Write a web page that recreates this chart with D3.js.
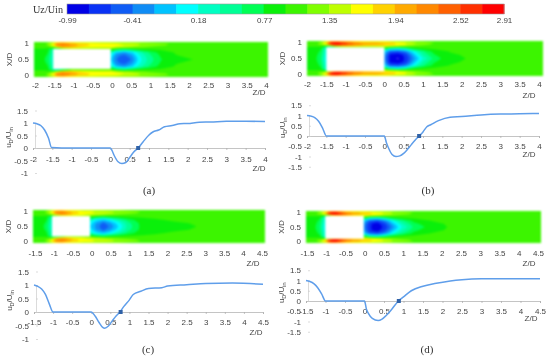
<!DOCTYPE html>
<html lang="en">
<head>
<meta charset="UTF-8">
<title>Uz/Uin contours and centreline velocity</title>
<script src="https://d3js.org/d3.v7.min.js"></script>
<style>
    body { margin: 0; background: #fff; font-family: "Liberation Sans", Arial, sans-serif; }
    svg { display: block; filter: blur(0.4px); }
    .field { filter: blur(0.8px); }
    .tick text { font-size: 8px; fill: #444; font-family: "Liberation Sans", Arial, sans-serif; }
    .lbl { font-size: 8px; fill: #444; }
    .cap { font-size: 11px; fill: #333; font-family: "Liberation Serif", serif; }
</style>
</head>
<body>
<div id="chart"></div>
<script>
// colour bar
const bandColors = ["#0000e6", "#0a32f5", "#0f5cf5", "#0f8cf5", "#00c3ff", "#00ffff", "#00ffc3", "#00ff96", "#00ff55", "#0af00a",
    "#3cf500", "#80ff00", "#bfff00", "#ffff00", "#ffd200", "#ffaa00", "#ff8800", "#ff6000", "#ff3000", "#ff0000"];
const legendTicks = [-0.99, -0.41, 0.18, 0.77, 1.35, 1.94, 2.52, 2.91];

// grid of the contour plots: distance from the wall (upper half, the lower half mirrors it)
const wallRows = [0, 0.05, 0.1, 0.15, 0.2, 0.3, 0.4, 0.5];
const zLong = [-2, -1.8, -1.65, -1.5, -1.4, -1.25, -1, -0.75, -0.5, -0.25, 0, 0.15, 0.35, 0.55, 0.75, 1, 1.3, 1.7, 2.2, 3, 4.1];
const zShort = [-1.5, -1.3, -1.15, -1, -0.9, -0.75, -0.6, -0.45, -0.3, -0.15, 0, 0.15, 0.35, 0.55, 0.75, 1, 1.3, 1.7, 2.2, 3, 4.6];

// Uz/Uin, one line per wallRows entry
const fieldA = [
    [1, 1.02, 1.1, 1.25, 1.5, 1.6, 1.5, 1.4, 1.35, 1.3, 1.3, 1.28, 1.25, 1.2, 1.15, 1.1, 1.06, 1.03, 1, 1, 1],
    [1, 1.05, 1.2, 1.7, 2.2, 2.3, 2, 1.8, 1.7, 1.65, 1.6, 1.55, 1.5, 1.45, 1.35, 1.28, 1.2, 1.12, 1.05, 1, 1],
    [1, 1.05, 1.15, 1.6, 2.2, 2.35, 2.1, 1.85, 1.72, 1.65, 1.6, 1.58, 1.55, 1.45, 1.35, 1.25, 1.18, 1.1, 1.03, 1, 1],
    [0.98, 1, 1.05, 1.2, 1.6, 2, 1.9, 1.7, 1.6, 1.55, 1.55, 1.5, 1.4, 1.3, 1.2, 1.12, 1.06, 1.02, 1, 1, 1],
    [0.95, 0.95, 0.9, 0.4, 0.2, 0.7, 1.2, 1.2, 1.2, 1.2, 1.2, 0.85, 0.7, 0.85, 0.95, 1, 1, 1, 1, 1, 1],
    [0.95, 0.9, 0.8, 0.3, 0.3, 0.3, 0.3, 0.3, 0.3, 0.3, 0.3, -0.1, -0.25, -0.05, 0.3, 0.6, 0.85, 0.98, 1, 1, 1],
    [0.93, 0.88, 0.72, 0.25, 0.25, 0.25, 0.25, 0.25, 0.25, 0.25, 0.1, -0.35, -0.5, -0.25, 0.15, 0.5, 0.78, 0.95, 1, 1, 1],
    [0.92, 0.85, 0.68, 0.2, 0.2, 0.2, 0.2, 0.2, 0.2, 0.2, 0, -0.4, -0.62, -0.38, 0.1, 0.45, 0.75, 0.88, 0.97, 1, 1]
];
const fieldB = [
    [1, 1.02, 1.1, 1.3, 1.7, 1.8, 1.7, 1.55, 1.45, 1.4, 1.35, 1.3, 1.25, 1.2, 1.12, 1.08, 1.05, 1.02, 1, 1, 1],
    [1, 1.05, 1.25, 1.9, 2.7, 2.85, 2.5, 2.2, 2, 1.95, 1.9, 1.8, 1.7, 1.55, 1.4, 1.25, 1.15, 1.08, 1.03, 1, 1],
    [1, 1.05, 1.2, 1.7, 2.6, 2.9, 2.6, 2.3, 2.1, 2, 1.95, 1.85, 1.7, 1.55, 1.35, 1.2, 1.12, 1.06, 1.02, 1, 1],
    [0.98, 0.98, 1, 0.7, 0.6, 1.4, 1.7, 1.7, 1.6, 1.55, 1.5, 1.45, 1.35, 1.25, 1.15, 1.08, 1.04, 1.02, 1, 1, 1],
    [0.93, 0.92, 0.85, 0.2, 0, 0.2, 0.5, 0.5, 0.5, 0.5, 1, 0.5, 0.35, 0.6, 0.9, 1, 1.02, 1, 1, 1, 1],
    [0.93, 0.88, 0.72, 0.15, 0.15, 0.15, 0.15, 0.15, 0.15, 0.15, 0, -0.5, -0.55, -0.35, 0.1, 0.55, 0.85, 0.97, 1, 1, 1],
    [0.93, 0.85, 0.65, 0.1, 0.1, 0.1, 0.1, 0.1, 0.1, 0.1, -0.2, -0.85, -0.95, -0.7, -0.15, 0.4, 0.75, 0.93, 0.99, 1, 1],
    [0.92, 0.83, 0.6, 0.05, 0.05, 0.05, 0.05, 0.05, 0.05, 0.05, -0.3, -0.85, -1, -0.75, -0.3, 0.2, 0.65, 0.92, 0.97, 1, 1]
];
const fieldC = [
    [1, 1.02, 1.1, 1.25, 1.5, 1.6, 1.5, 1.4, 1.35, 1.3, 1.3, 1.28, 1.25, 1.2, 1.15, 1.1, 1.06, 1.03, 1, 1, 1],
    [1, 1.05, 1.2, 1.7, 2.2, 2.3, 2.05, 1.85, 1.72, 1.65, 1.6, 1.52, 1.45, 1.38, 1.3, 1.22, 1.16, 1.1, 1.05, 1, 1],
    [1, 1.05, 1.15, 1.6, 2.2, 2.35, 2.15, 1.9, 1.75, 1.65, 1.58, 1.52, 1.45, 1.38, 1.28, 1.2, 1.14, 1.08, 1.03, 1, 1],
    [0.98, 1, 1.05, 1.2, 1.6, 2, 1.9, 1.7, 1.6, 1.52, 1.45, 1.38, 1.3, 1.2, 1.14, 1.08, 1.05, 1.02, 1, 1, 1],
    [0.95, 0.95, 0.9, 0.4, 0.2, 0.7, 1.2, 1.2, 1.2, 1.2, 1.1, 0.85, 0.75, 0.88, 0.95, 1, 1, 1, 1, 1, 1],
    [0.95, 0.9, 0.8, 0.3, 0.3, 0.3, 0.3, 0.3, 0.3, 0.3, 0.3, 0.05, -0.1, 0.1, 0.35, 0.65, 0.86, 0.94, 0.98, 1, 1],
    [0.93, 0.88, 0.72, 0.25, 0.25, 0.25, 0.25, 0.25, 0.25, 0.25, 0.1, -0.2, -0.45, -0.2, 0.1, 0.5, 0.78, 0.9, 0.94, 0.98, 1],
    [0.92, 0.85, 0.68, 0.2, 0.2, 0.2, 0.2, 0.2, 0.2, 0.2, 0, -0.25, -0.6, -0.33, 0, 0.45, 0.77, 0.89, 0.93, 0.97, 1]
];
const fieldD = [
    [1, 1.02, 1.1, 1.3, 1.7, 1.8, 1.7, 1.55, 1.45, 1.4, 1.35, 1.3, 1.25, 1.2, 1.12, 1.08, 1.05, 1.02, 1, 1, 1],
    [1, 1.05, 1.25, 1.9, 2.7, 2.85, 2.5, 2.25, 2.05, 1.95, 1.85, 1.75, 1.65, 1.5, 1.35, 1.25, 1.15, 1.08, 1.03, 1, 1],
    [1, 1.05, 1.2, 1.7, 2.6, 2.9, 2.65, 2.35, 2.15, 2, 1.9, 1.8, 1.65, 1.5, 1.32, 1.2, 1.12, 1.06, 1.02, 1, 1],
    [0.98, 0.98, 1, 0.7, 0.6, 1.4, 1.7, 1.7, 1.6, 1.55, 1.5, 1.42, 1.32, 1.22, 1.15, 1.08, 1.04, 1.02, 1, 1, 1],
    [0.93, 0.92, 0.85, 0.2, 0, 0.2, 0.5, 0.5, 0.5, 0.5, 1, 0.5, 0.4, 0.65, 0.9, 1, 1.02, 1, 1, 1, 1],
    [0.93, 0.88, 0.72, 0.15, 0.15, 0.15, 0.15, 0.15, 0.15, 0.15, 0, -0.45, -0.55, -0.3, 0.15, 0.55, 0.83, 0.96, 1, 1, 1],
    [0.93, 0.85, 0.65, 0.1, 0.1, 0.1, 0.1, 0.1, 0.1, 0.1, -0.2, -0.75, -0.9, -0.6, -0.12, 0.35, 0.7, 0.9, 0.98, 1, 1],
    [0.92, 0.83, 0.6, 0.05, 0.05, 0.05, 0.05, 0.05, 0.05, 0.05, -0.3, -0.75, -0.95, -0.72, -0.3, 0.2, 0.6, 0.83, 0.97, 1, 1]
];

// block extent on the X/D axis, bottom then top
const blockA = [0.23, 0.8], blockB = [0.135, 0.82], blockC = [0.2, 0.816], blockD = [0.133, 0.847];

// centreline curves
const curveZA = [-2, -1.9, -1.8, -1.7, -1.6, -1.52, -1, 0, 0.05, 0.1, 0.2, 0.3, 0.4, 0.5, 0.6, 0.72, 0.85, 1, 1.1, 1.25, 1.4, 1.6, 1.8, 2, 2.3, 2.6, 3, 3.5, 4];
const curveUA = [1, 0.97, 0.9, 0.72, 0.4, 0.02, 0, 0, -0.12, -0.3, -0.55, -0.62, -0.58, -0.38, -0.17, 0, 0.25, 0.52, 0.64, 0.72, 0.85, 0.9, 0.97, 0.98, 1.03, 1.04, 1.07, 1.07, 1.06];
const curveZB = [-2, -1.9, -1.8, -1.7, -1.6, -1.5, -1, 0, 0.05, 0.1, 0.2, 0.3, 0.4, 0.5, 0.6, 0.7, 0.8, 0.9, 1, 1.1, 1.2, 1.4, 1.7, 2, 2.5, 3, 3.5, 4];
const curveUB = [1, 0.97, 0.9, 0.72, 0.4, 0, 0, 0, -0.3, -0.55, -0.9, -1, -0.97, -0.85, -0.65, -0.42, -0.2, 0, 0.2, 0.45, 0.55, 0.75, 0.92, 0.95, 1.03, 1.07, 1.08, 1.1];
const curveZC = [-1.5, -1.4, -1.3, -1.2, -1.1, -1, -0.5, 0, 0.1, 0.2, 0.3, 0.35, 0.45, 0.55, 0.65, 0.75, 0.85, 1, 1.1, 1.3, 1.5, 1.85, 2, 2.5, 3, 3.7, 4.5];
const curveUC = [1, 0.95, 0.85, 0.65, 0.3, 0, 0, 0, -0.15, -0.38, -0.57, -0.6, -0.52, -0.33, -0.15, 0, 0.2, 0.45, 0.65, 0.77, 0.87, 0.9, 0.96, 1.01, 1.06, 1.07, 1.03];
const curveZD = [-1.5, -1.4, -1.3, -1.2, -1.1, -1, -0.5, 0, 0.05, 0.1, 0.2, 0.35, 0.45, 0.55, 0.7, 0.87, 1, 1.2, 1.5, 1.8, 2.2, 2.5, 3, 4.5];
const curveUD = [1, 0.95, 0.85, 0.65, 0.35, 0, 0, 0, -0.4, -0.6, -0.85, -0.95, -0.88, -0.72, -0.4, 0, 0.2, 0.5, 0.72, 0.85, 0.98, 1.04, 1.08, 1.08];

// zero crossing marker of each curve
const crossA = 0.72, crossB = 0.9, crossC = 0.77, crossD = 0.88;

const zTicksLong = [-2, -1.5, -1, -0.5, 0, 0.5, 1, 1.5, 2, 2.5, 3, 3.5, 4];
const zTicksShort = [-1.5, -1, -0.5, 0, 0.5, 1, 1.5, 2, 2.5, 3, 3.5, 4, 4.5];
const xTicks = [0, 0.5, 1];
const uTicksShort = [-1, -0.5, 0, 0.5, 1, 1.5];
const uTicksFull = [-1.5, -1, -0.5, 0, 0.5, 1, 1.5];

const width = 550, height = 359;
const svg = d3.select("#chart").append("svg").attr("width", width).attr("height", height);

const fmt = d => String(d);

// colour bar
const uMin = legendTicks[0], uMax = legendTicks[legendTicks.length - 1];
const bandEdges = bandColors.map((c, i) => uMin + i * (uMax - uMin) / bandColors.length);
const legendX = d3.scaleLinear().domain([uMin, uMax]).range([67, 504]);
const bandStep = (uMax - uMin) / bandColors.length;

svg.append("text").attr("class", "cap").attr("x", 33).attr("y", 13).style("font-size", "10.2px").text("Uz/Uin");
svg.append("g").selectAll("rect").data(bandColors).join("rect")
    .attr("x", (d, i) => legendX(bandEdges[i]))
    .attr("y", 4)
    .attr("width", legendX(uMin + bandStep) - legendX(uMin) + 0.5)
    .attr("height", 10)
    .attr("fill", d => d);
svg.append("rect").attr("x", 67).attr("y", 4).attr("width", 437).attr("height", 10)
    .attr("fill", "none").attr("stroke", "#999").attr("stroke-width", 0.6);
svg.append("g").attr("transform", "translate(0,14)")
    .call(d3.axisBottom(legendX).tickValues(legendTicks).tickSize(0).tickPadding(3).tickFormat(fmt))
    .call(g => g.select(".domain").remove());

// one contour plot
function drawField(o) {
    const nCols = o.zs.length;
    const rowsX = wallRows.concat(wallRows.slice(0, -1).reverse().map(d => 1 - d));
    const rows = o.field.concat(o.field.slice(0, -1).reverse());
    const values = rows.flat();

    const x = d3.scaleLinear().domain([o.zs[0], o.zs[nCols - 1]]).range([o.fx0, o.fx1]);
    const y = d3.scaleLinear().domain([0, 1]).range([o.fy1, o.fy0]);
    const colZ = d3.scaleLinear().domain(d3.range(nCols)).range(o.zs).clamp(true);
    const rowX = d3.scaleLinear().domain(d3.range(rowsX.length)).range(rowsX).clamp(true);

    const contours = d3.contours().size([nCols, rowsX.length]).thresholds(bandEdges)(values);
    const path = d3.geoPath(d3.geoTransform({
        point(px, py) { this.stream.point(x(colZ(px - 0.5)), y(rowX(py - 0.5))); }
    }));

    const g = svg.append("g").attr("class", "field");
    g.selectAll("path").data(contours).join("path")
        .attr("d", path)
        .attr("fill", (d, i) => bandColors[i]);

    // the block itself stays white
    g.append("rect")
        .attr("x", x(o.blockZ)).attr("width", x(0) - x(o.blockZ))
        .attr("y", y(o.block[1])).attr("height", y(o.block[0]) - y(o.block[1]))
        .attr("fill", "#fff");

    const tickX = d3.scaleLinear().domain([o.zTicks[0], o.zTicks[o.zTicks.length - 1]]).range([o.tx0, o.tx1]);
    svg.append("g").attr("transform", `translate(0,${o.fy1})`)
        .call(d3.axisBottom(tickX).tickValues(o.zTicks).tickSize(0).tickPadding(o.tickPad).tickFormat(fmt))
        .call(g => g.select(".domain").remove());

    const tickY = d3.scaleLinear().domain([0, 1]).range([o.fy1 - 2, o.fy0 + 1]);
    svg.append("g").attr("transform", `translate(${o.fx0},0)`)
        .call(d3.axisLeft(tickY).tickValues(xTicks).tickSize(0).tickPadding(5).tickFormat(fmt))
        .call(g => g.select(".domain").remove());

    svg.append("text").attr("class", "lbl").attr("text-anchor", "middle")
        .attr("transform", `translate(${o.fx0 - 22},${(o.fy0 + o.fy1) / 2}) rotate(-90)`).text("X/D");
    svg.append("text").attr("class", "lbl").attr("text-anchor", "middle")
        .attr("x", o.zLabelX).attr("y", o.zLabelY + 3).text("Z/D");
}

// one centreline plot
function drawCurve(o) {
    const x = d3.scaleLinear().domain([o.zTicks[0], o.zTicks[o.zTicks.length - 1]]).range([o.x0, o.x1]);
    const y = d3.scaleLinear().domain([0, 1]).range([o.y0, o.y1]);

    svg.append("g").attr("transform", `translate(0,${y(0)})`)
        .call(d3.axisBottom(x).tickValues(o.zTicks).tickSize(2).tickPadding(o.tickPad).tickFormat(fmt))
        .call(g => g.selectAll("path,line").attr("stroke", "#aaa").attr("stroke-width", 0.7));

    svg.append("g").attr("transform", `translate(${o.x0 + 2},0)`)
        .call(d3.axisLeft(y).tickValues(o.uTicks).tickSizeInner(-2).tickSizeOuter(0).tickPadding(7).tickFormat(fmt))
        .call(g => g.selectAll("path,line").attr("stroke", "#ccc").attr("stroke-width", 0.7));

    const line = d3.line().x(d => x(d[0])).y(d => y(d[1])).curve(d3.curveMonotoneX);
    svg.append("path").datum(d3.zip(o.curveZ, o.curveU))
        .attr("fill", "none").attr("stroke", "#5f9eea").attr("stroke-width", 1.5)
        .attr("d", line);

    svg.append("rect")
        .attr("x", x(o.cross) - 2).attr("y", y(0) - 2)
        .attr("width", 4).attr("height", 4).attr("fill", "#2f62a8");

    const ylab = svg.append("text").attr("class", "lbl").attr("text-anchor", "middle")
        .attr("transform", `translate(${o.x0 - 22},${y(0.5) + 2}) rotate(-90)`);
    ylab.append("tspan").text("u");
    ylab.append("tspan").attr("dy", 2).style("font-size", "5.5px").text("D");
    ylab.append("tspan").attr("dy", -2).text("/U");
    ylab.append("tspan").attr("dy", 2).style("font-size", "5.5px").text("in");

    svg.append("text").attr("class", "lbl").attr("text-anchor", "middle")
        .attr("x", o.zLabelX).attr("y", o.zLabelY + 3).text("Z/D");
    svg.append("text").attr("class", "cap").attr("text-anchor", "middle")
        .attr("x", o.capX).attr("y", o.capY + 4).text(o.cap);
}

drawField({ field: fieldA, zs: zLong, zTicks: zTicksLong, blockZ: -1.5, block: blockA, fx0: 34, fx1: 268, fy0: 42, fy1: 77, tx0: 35, tx1: 266, tickPad: 5, zLabelX: 259, zLabelY: 92 });
drawField({ field: fieldB, zs: zLong, zTicks: zTicksLong, blockZ: -1.5, block: blockB, fx0: 307, fx1: 543, fy0: 41, fy1: 76, tx0: 307, tx1: 539, tickPad: 5, zLabelX: 529, zLabelY: 95 });
drawField({ field: fieldC, zs: zShort, zTicks: zTicksShort, blockZ: -1, block: blockC, fx0: 33, fx1: 265, fy0: 210, fy1: 243, tx0: 35, tx1: 262, tickPad: 7, zLabelX: 253, zLabelY: 263 });
drawField({ field: fieldD, zs: zShort, zTicks: zTicksShort, blockZ: -1, block: blockD, fx0: 306, fx1: 541, fy0: 211, fy1: 243, tx0: 307, tx1: 538, tickPad: 7, zLabelX: 529, zLabelY: 263 });

drawCurve({ curveZ: curveZA, curveU: curveUA, cross: crossA, zTicks: zTicksLong, uTicks: uTicksShort, x0: 33, x1: 265, y0: 148, y1: 123, tickPad: 6, zLabelX: 259, zLabelY: 168, cap: "(a)", capX: 149, capY: 190 });
drawCurve({ curveZ: curveZB, curveU: curveUB, cross: crossB, zTicks: zTicksLong, uTicks: uTicksFull, x0: 307, x1: 539, y0: 136, y1: 115.5, tickPad: 5, zLabelX: 529, zLabelY: 154, cap: "(b)", capX: 428, capY: 190 });
drawCurve({ curveZ: curveZC, curveU: curveUC, cross: crossC, zTicks: zTicksShort, uTicks: uTicksShort, x0: 34, x1: 263, y0: 312, y1: 285, tickPad: 5, zLabelX: 256, zLabelY: 332, cap: "(c)", capX: 148, capY: 349 });
drawCurve({ curveZ: curveZD, curveU: curveUD, cross: crossD, zTicks: zTicksShort, uTicks: uTicksFull, x0: 306, x1: 540, y0: 301, y1: 280.5, tickPad: 5, zLabelX: 531, zLabelY: 318, cap: "(d)", capX: 427, capY: 349 });
</script>
</body>
</html>
